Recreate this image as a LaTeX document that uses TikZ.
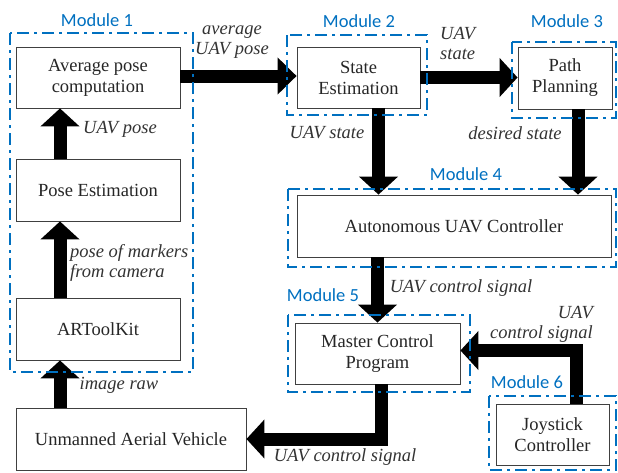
\documentclass[tikz,border=0pt]{standalone}
\usepackage{fontspec}
\setmainfont{Liberation Serif}
\newfontfamily\modfont{Carlito}
\usetikzlibrary{arrows.meta}
\definecolor{modblue}{RGB}{0,112,192}

\tikzset{
  block/.style={draw=black!75, line width=0.8pt, fill=white, text=black!85,
    align=center, inner sep=0pt},
  modbox/.style={draw=modblue, line width=2.6pt,
    dash pattern=on 12pt off 5pt on 3pt off 5pt},
  flow/.style={line width=13pt, line join=miter,
    -{Triangle[width=38pt,length=18pt]}},
  lbl/.style={font=\rmfamily\fontsize{18.5}{20}\selectfont\itshape, text=black!80,
    inner sep=0pt, align=center},
  modlbl/.style={font=\modfont\fontsize{18.5}{21}\selectfont, text=modblue, inner sep=0pt}
}

\begin{document}
\begin{tikzpicture}[x=1pt, y=-1pt, font=\rmfamily\fontsize{18.5}{21}\selectfont]
  \useasboundingbox (0,0) rectangle (618,472);

  % blocks
  \node[block, minimum width=164pt, minimum height=61pt] (avg) at (98,77.5) {Average pose\\computation};
  \node[block, minimum width=164pt, minimum height=62pt] (poseest) at (98,190) {Pose Estimation};
  \node[block, minimum width=164pt, minimum height=62pt] (artk) at (98,329) {ARToolKit};
  \node[block, minimum width=230pt, minimum height=62pt] (uav) at (131,439) {Unmanned Aerial Vehicle};
  \node[block, minimum width=123pt, minimum height=61pt] (state) at (358.5,77.5) {State\\Estimation};
  \node[block, minimum width=94pt, minimum height=62pt] (path) at (565,78) {Path\\Planning};
  \node[block, minimum width=314pt, minimum height=62pt] (auto) at (454,226) {Autonomous UAV Controller};
  \node[block, minimum width=165pt, minimum height=61pt] (master) at (377.5,353.5) {Master Control\\Program};
  \node[block, minimum width=113pt, minimum height=61pt] (joy) at (552.5,434.5) {Joystick\\Controller};

  % flows
  \draw[flow] ([xshift=-38pt]poseest.north) -- ([xshift=-38pt]avg.south);
  \draw[flow] ([xshift=-38pt]artk.north) -- ([xshift=-38pt]poseest.south);
  \draw[flow] ([xshift=-38pt]artk.south |- uav.north) -- ([xshift=-38pt]artk.south);
  \draw[flow, -{Triangle[width=36pt,length=19pt]}] ([yshift=1.5pt]avg.east) -- ([yshift=1.5pt]avg.east -| state.west);
  \draw[flow] (state.east) -- (state.east -| path.west);
  \draw[flow] ([xshift=20pt]state.south) -- ([xshift=20pt]state.south |- auto.north);
  \draw[flow] ([xshift=13pt]path.south) -- ([xshift=13pt]path.south |- auto.north);
  \draw[flow] (auto.south -| master.north) -- (master.north);
  \draw[flow] ([xshift=4pt]master.south) |- (uav.east);
  \draw[flow] ([xshift=23.5pt]joy.north) |- ([yshift=3pt]master.east);

  % flow labels
  \node[lbl] (lavg) at (232,42) {average\\UAV pose};
  \node[lbl] (lpose) at (120,129) {UAV pose};
  \node[lbl, align=left, anchor=west] (lmark) at (70,263) {pose of markers\\from camera};
  \node[lbl] (limg) at (119,385) {image raw};
  \node[lbl, align=left, anchor=west] (lst1) at (440,43) {UAV\\state};
  \node[lbl] (lst2) at (327,133) {UAV state};
  \node[lbl] (ldes) at (515,133) {desired state};
  \node[lbl] (lctl1) at (461,288) {UAV control signal};
  \node[lbl, align=right, anchor=east] (lctl2) at (593,324) {UAV\\control signal};
  \node[lbl] (lctl3) at (345,457) {UAV control signal};

  % modules
  \draw[modbox] (10,33) rectangle (193,372);
  \draw[modbox] (287,35) rectangle (427,115);
  \draw[modbox] (512,42) rectangle (616,118);
  \draw[modbox] (288,189) rectangle (616,267);
  \draw[modbox] (288,315) rectangle (470,392);
  \draw[modbox] (489,396) rectangle (616,470);
  \node[modlbl] (m1) at (97,20) {Module 1};
  \node[modlbl] (m2) at (359,21) {Module 2};
  \node[modlbl] (m3) at (567,21) {Module 3};
  \node[modlbl] (m4) at (466,174) {Module 4};
  \node[modlbl] (m5) at (323,295) {Module 5};
  \node[modlbl] (m6) at (527,382) {Module 6};
\end{tikzpicture}
\end{document}
